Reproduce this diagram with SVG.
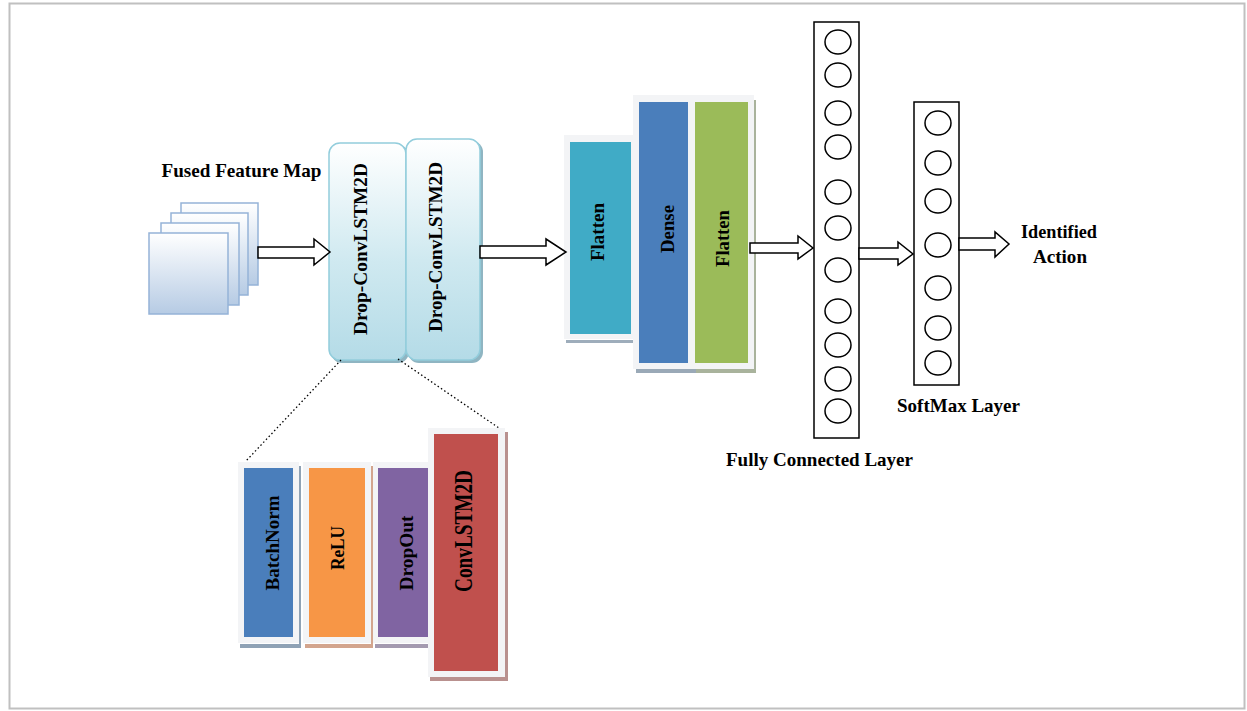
<svg xmlns="http://www.w3.org/2000/svg" width="1247" height="711" viewBox="0 0 1247 711">
<defs>
<linearGradient id="gMap" x1="0" y1="0" x2="0" y2="1">
<stop offset="0" stop-color="#ffffff"/>
<stop offset="1" stop-color="#b6cbe4"/>
</linearGradient>
<linearGradient id="gDrop" x1="0" y1="0" x2="0" y2="1">
<stop offset="0" stop-color="#ffffff"/>
<stop offset="0.55" stop-color="#cfe9f0"/>
<stop offset="1" stop-color="#b4dbe7"/>
</linearGradient>
<style>
.lbl{font-family:"Liberation Serif","Times New Roman",serif;font-weight:bold;font-size:19px;fill:#000;}
.map{fill:url(#gMap);stroke:#95b3d7;stroke-width:1.5;}
.drop{fill:url(#gDrop);stroke:#92cddc;stroke-width:1.5;}
.dshadow{fill:#8fb5c2;}
.card{fill:#f3f4f6;}
.arrow{fill:#fff;stroke:#000;stroke-width:1.5;stroke-linejoin:miter;}
.layer{fill:#fff;stroke:#000;stroke-width:1.5;}
.neuron{fill:#fff;stroke:#000;stroke-width:1.5;}
.dot{fill:none;stroke:#000;stroke-width:1.3;stroke-dasharray:1.5 2.5;}
</style>
</defs>
<rect x="9.5" y="3.5" width="1235" height="705" fill="#fff" stroke="#c0c0c0" stroke-width="2"/>

<g id="fused-feature-map">
<rect class="map" x="181" y="203" width="77" height="82"/>
<rect class="map" x="171" y="213" width="77" height="82"/>
<rect class="map" x="161" y="223" width="78" height="82"/>
<rect class="map" x="149" y="233" width="79" height="81"/>
<text class="lbl" x="241.5" y="177" text-anchor="middle" textLength="160" lengthAdjust="spacingAndGlyphs">Fused Feature Map</text>
</g>

<g id="drop-convlstm2d-1">
<rect class="dshadow" x="331" y="145" width="78" height="218" rx="11"/>
<rect class="drop" x="329" y="143" width="77" height="217" rx="11"/>
<text class="lbl" transform="translate(360,249) rotate(-90)" x="0" y="6.5" text-anchor="middle" textLength="172" lengthAdjust="spacingAndGlyphs">Drop-ConvLSTM2D</text>
</g>
<g id="drop-convlstm2d-2">
<rect class="dshadow" x="408" y="141" width="75" height="222" rx="11"/>
<rect class="drop" x="406" y="139" width="74" height="221" rx="11"/>
<text class="lbl" transform="translate(435,247) rotate(-90)" x="0" y="6.5" text-anchor="middle" textLength="170" lengthAdjust="spacingAndGlyphs">Drop-ConvLSTM2D</text>
</g>

<g id="flatten-1">
<rect x="566" y="340" width="67" height="3" fill="#9eadbb"/>
<rect class="card" x="564" y="135" width="69" height="204"/>
<rect x="570" y="142" width="61" height="192" fill="#40abc6"/>
<text class="lbl" transform="translate(597,232) rotate(-90)" x="0" y="7" text-anchor="middle" textLength="58" lengthAdjust="spacingAndGlyphs">Flatten</text>
</g>

<g id="dense-flatten">
<rect x="636" y="369" width="60" height="4" fill="#9aa9b7"/>
<rect x="696" y="369" width="60" height="4" fill="#a9b39c"/>
<rect x="753" y="100" width="3" height="273" fill="#a9b39c"/>
<rect class="card" x="633" y="95" width="121" height="274"/>
<g id="dense">
<rect x="639" y="102" width="49" height="261" fill="#4a7ebb"/>
<text class="lbl" transform="translate(667,229) rotate(-90)" x="0" y="6.5" text-anchor="middle" textLength="48" lengthAdjust="spacingAndGlyphs">Dense</text>
</g>
<g id="flatten-2">
<rect x="695" y="102" width="53" height="261" fill="#9bbb59"/>
<text class="lbl" transform="translate(722,238.5) rotate(-90)" x="0" y="6.5" text-anchor="middle" textLength="57" lengthAdjust="spacingAndGlyphs">Flatten</text>
</g>
</g>

<g id="fully-connected-layer">
<rect class="layer" x="814" y="22" width="45" height="416"/>
<ellipse class="neuron" cx="838" cy="42" rx="13" ry="12"/>
<ellipse class="neuron" cx="838" cy="75" rx="13" ry="12"/>
<ellipse class="neuron" cx="838" cy="113" rx="13" ry="12"/>
<ellipse class="neuron" cx="838" cy="147" rx="13" ry="12"/>
<ellipse class="neuron" cx="838" cy="192" rx="13" ry="12"/>
<ellipse class="neuron" cx="838" cy="228" rx="13" ry="12"/>
<ellipse class="neuron" cx="838" cy="270" rx="13" ry="12"/>
<ellipse class="neuron" cx="838" cy="311" rx="13" ry="12"/>
<ellipse class="neuron" cx="838" cy="345" rx="13" ry="12"/>
<ellipse class="neuron" cx="838" cy="379" rx="13" ry="12"/>
<ellipse class="neuron" cx="838" cy="411" rx="13" ry="12"/>
<text class="lbl" x="819.5" y="466" text-anchor="middle" textLength="187" lengthAdjust="spacingAndGlyphs">Fully Connected Layer</text>
</g>

<g id="softmax-layer">
<rect class="layer" x="914" y="102" width="45" height="283"/>
<ellipse class="neuron" cx="938" cy="123" rx="13" ry="12"/>
<ellipse class="neuron" cx="938" cy="163" rx="13" ry="12"/>
<ellipse class="neuron" cx="938" cy="201" rx="13" ry="12"/>
<ellipse class="neuron" cx="938" cy="245" rx="13" ry="12"/>
<ellipse class="neuron" cx="938" cy="288" rx="13" ry="12"/>
<ellipse class="neuron" cx="938" cy="328" rx="13" ry="12"/>
<ellipse class="neuron" cx="938" cy="363" rx="13" ry="12"/>
<text class="lbl" x="958.5" y="412" text-anchor="middle" textLength="123" lengthAdjust="spacingAndGlyphs">SoftMax Layer</text>
</g>

<g id="identified-action">
<text class="lbl" x="1059" y="238" text-anchor="middle" textLength="76" lengthAdjust="spacingAndGlyphs">Identified</text>
<text class="lbl" x="1060" y="263" text-anchor="middle" textLength="54" lengthAdjust="spacingAndGlyphs">Action</text>
</g>

<g id="batchnorm">
<rect x="240" y="644" width="61" height="4" fill="#8fa2b5"/>
<rect x="299" y="466" width="2" height="182" fill="#8fa2b5"/>
<rect class="card" x="238" y="462" width="61" height="181"/>
<rect x="244" y="468" width="49" height="169" fill="#4a7ebb"/>
<text class="lbl" transform="translate(272,543) rotate(-90)" x="0" y="6.5" text-anchor="middle" textLength="95" lengthAdjust="spacingAndGlyphs">BatchNorm</text>
</g>
<g id="relu">
<rect x="305" y="644" width="67" height="4" fill="#d3a58e"/>
<rect x="371" y="466" width="2" height="182" fill="#d3a58e"/>
<rect class="card" x="303" y="462" width="68" height="181"/>
<rect x="309" y="468" width="56" height="169" fill="#f79646"/>
<text class="lbl" transform="translate(337,548) rotate(-90)" x="0" y="7" text-anchor="middle" textLength="44" lengthAdjust="spacingAndGlyphs">ReLU</text>
</g>
<g id="dropout">
<rect x="375" y="644" width="55" height="4" fill="#a49ab0"/>
<rect class="card" x="373" y="462" width="57" height="181"/>
<rect x="378" y="468" width="52" height="169" fill="#8064a2"/>
<text class="lbl" transform="translate(405.5,553) rotate(-90)" x="0" y="7" text-anchor="middle" textLength="75" lengthAdjust="spacingAndGlyphs">DropOut</text>
</g>
<g id="convlstm2d">
<rect x="430" y="677" width="78" height="4" fill="#b9918f"/>
<rect x="505" y="432" width="3" height="249" fill="#b9918f"/>
<rect class="card" x="428" y="428" width="77" height="249"/>
<rect x="434" y="434" width="64" height="237" fill="#c0504d"/>
<text class="lbl" style="font-size:25px" transform="translate(463,531) rotate(-90)" x="0" y="8.5" text-anchor="middle" textLength="122" lengthAdjust="spacingAndGlyphs">ConvLSTM2D</text>
</g>

<g id="connectors">
<path class="arrow" d="M258,247 H314 V239 L330,252 L314,265 V258 H258 Z"/>
<path class="arrow" d="M480,246 H546 V239 L566,252 L546,265 V258 H480 Z"/>
<path class="arrow" d="M750,243 H798 V236 L813,248 L798,259 V253 H750 Z"/>
<path class="arrow" d="M859,248 H898 V242 L913,254 L898,265 V259 H859 Z"/>
<path class="arrow" d="M959,238 H995 V232 L1009,244 L995,257 V250 H959 Z"/>
<line class="dot" x1="341" y1="360" x2="246" y2="461"/>
<line class="dot" x1="398" y1="359" x2="499" y2="428"/>
</g>
</svg>
